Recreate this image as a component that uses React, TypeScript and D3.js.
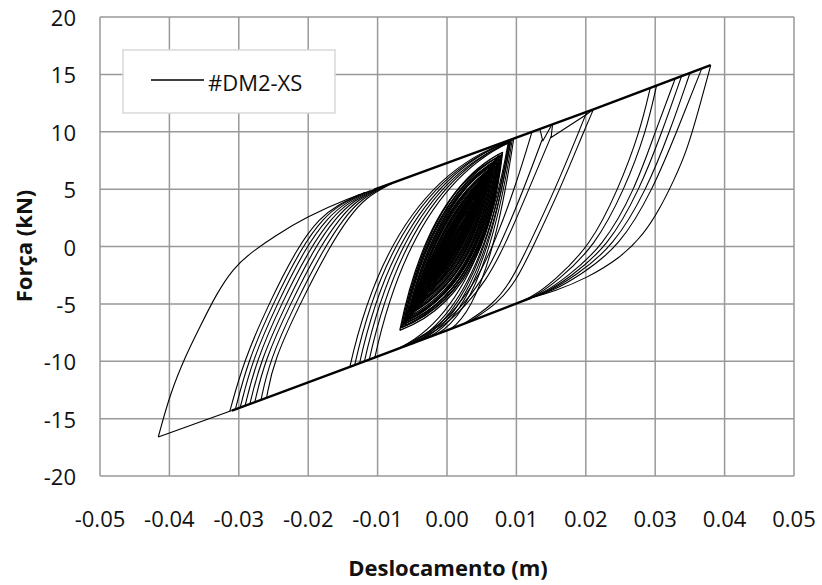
import React from "react";
import * as d3 from "d3";

type P = [number, number];

const xTicks = [-0.05, -0.04, -0.03, -0.02, -0.01, 0.0, 0.01, 0.02, 0.03, 0.04, 0.05];
const yTicks = [-20, -15, -10, -5, 0, 5, 10, 15, 20];
const seriesName = "#DM2-XS";

// envelopes (many overlapping branches, drawn thicker)
const upperEnvelope: P[] = [[-0.0105, 4.95], [0.009, 9.28], [0.0211, 11.95], [0.038, 15.8]];
const lowerEnvelope: P[] = [[-0.031, -14.3], [-0.014, -10.5], [0.0, -7.3], [0.012, -4.5]];
const lowerTail: P[] = [[-0.0416, -16.6], [-0.031, -14.3]];

// largest cycle
const outerDescent: P[] = [
  [0.038, 15.8], [0.03646, 12.33], [0.03454, 8.26], [0.0326, 5.65], [0.0307, 3.33],
  [0.0283, 1.0], [0.0249, -1.03], [0.0201, -2.77], [0.0155, -3.9], [0.012, -4.5],
];
const outerAscent: P[] = [
  [-0.0416, -16.6], [-0.0399, -12.8], [-0.0375, -9.3], [-0.0356, -7.0], [-0.0332, -4.1],
  [-0.0308, -1.9], [-0.0284, -0.6], [-0.025, 0.85], [-0.0202, 2.6], [-0.014, 4.25], [-0.0105, 4.95],
];

// right group of unloading branches (peaks 0.029 - 0.037 m)
const rightDescents: P[][] = [
  [[0.0367, 15.5], [0.0331, 10], [0.0297, 5], [0.0249, 0], [0.0192, -2.5], [0.015, -3.95], [0.012, -4.5]],
  [[0.035, 15.1], [0.0321, 10], [0.0288, 5], [0.024, 0], [0.0184, -2.6], [0.0145, -4.0], [0.0118, -4.55]],
  [[0.0338, 14.85], [0.031, 10], [0.0278, 5], [0.0232, 0], [0.0177, -2.7], [0.014, -4.1], [0.0115, -4.6]],
  [[0.0329, 14.65], [0.03, 10], [0.0271, 5], [0.0225, 0], [0.017, -2.8], [0.0136, -4.15], [0.0112, -4.7]],
  [[0.0302, 14.05], [0.0287, 10], [0.0256, 5], [0.0213, 0], [0.016, -2.95], [0.013, -4.25], [0.0108, -4.8]],
  [[0.0293, 13.85], [0.0278, 10], [0.0247, 5], [0.0206, 0], [0.0153, -3.05], [0.0125, -4.3], [0.0105, -4.85]],
];

// peaks near 0.02 m
const midRightDescents: P[][] = [
  [[0.0211, 11.95], [0.0197, 10], [0.0163, 5], [0.0124, 0], [0.01, -3.0], [0.0072, -5.0], [0.0035, -6.45]],
  [[0.0201, 11.66], [0.019, 10], [0.0156, 5], [0.0117, 0], [0.0092, -3.1], [0.0064, -5.2], [0.0025, -6.7]],
];

// peaks near 0.012 - 0.015 m
const smallDescents: P[][] = [
  [[0.0137, 9.3], [0.011, 4.9], [0.0076, 0], [0.0048, -3.2], [0.002, -5.3], [-0.001, -7.0], [-0.006, -8.7]],
  [[0.015, 9.6], [0.0118, 5.0], [0.0083, 0], [0.0055, -3.1], [0.0026, -5.2], [-0.0003, -6.9], [-0.005, -8.5]],
  [[0.0122, 9.9], [0.01, 5.5], [0.007, 0.5], [0.0042, -3.0], [0.0013, -5.4], [-0.0017, -7.2], [-0.007, -8.9]],
];
const notches: P[][] = [
  [[0.0134, 10.2], [0.0138, 9.2], [0.015, 10.5]],
  [[0.0152, 10.58], [0.015, 9.5], [0.0201, 11.5], [0.0211, 11.95]],
];

// left group of reloading branches (valleys -0.031 .. -0.026 m)
const leftAscents: P[][] = [
  [[-0.0313, -14.37], [-0.0293, -10], [-0.0257, -5], [-0.0215, 0], [-0.0183, 2.5], [-0.0158, 3.6], [-0.0125, 4.55]],
  [[-0.0305, -14.19], [-0.0287, -10], [-0.0251, -5], [-0.0209, 0], [-0.0178, 2.5], [-0.0153, 3.7], [-0.0118, 4.72]],
  [[-0.0298, -14.03], [-0.0281, -10], [-0.0245, -5], [-0.0203, 0], [-0.0172, 2.5], [-0.0147, 3.8], [-0.0111, 4.85]],
  [[-0.0291, -13.88], [-0.0275, -10], [-0.0239, -5], [-0.0196, 0], [-0.0166, 2.5], [-0.0141, 3.9], [-0.0104, 4.97]],
  [[-0.0284, -13.72], [-0.0269, -10], [-0.0232, -5], [-0.019, 0], [-0.016, 2.5], [-0.0135, 4.0], [-0.0097, 5.12]],
  [[-0.0277, -13.56], [-0.0263, -10], [-0.0226, -5], [-0.0183, 0], [-0.0154, 2.5], [-0.0129, 4.1], [-0.009, 5.28]],
  [[-0.0268, -13.36], [-0.0256, -10], [-0.0219, -5], [-0.0176, 0], [-0.0148, 2.5], [-0.0123, 4.2], [-0.0084, 5.41]],
  [[-0.026, -13.18], [-0.025, -10], [-0.0212, -5], [-0.0169, 0], [-0.0142, 2.5], [-0.0117, 4.3], [-0.0078, 5.54]],
];

// medium cycles: [start, control, end]
const midAscents: P[][] = [
  [[-0.014, -10.5], [-0.008, 5.8], [0.0092, 9.2]],
  [[-0.0133, -10.34], [-0.0075, 5.6], [0.009, 9.1]],
  [[-0.0126, -10.18], [-0.0069, 5.5], [0.0094, 9.3]],
  [[-0.0119, -10.02], [-0.0063, 5.3], [0.0088, 9.0]],
  [[-0.0112, -9.86], [-0.0057, 5.2], [0.0091, 9.15]],
  [[-0.0104, -9.68], [-0.0051, 5.0], [0.0089, 9.05]],
];
const midDescents: P[][] = [
  [[0.0092, 9.2], [0.005, -5.8], [-0.004, -8.22]],
  [[0.009, 9.1], [0.0046, -6.2], [-0.0065, -8.8]],
  [[0.0094, 9.3], [0.0056, -5.3], [-0.0015, -7.65]],
  [[0.0088, 9.0], [0.0043, -6.5], [-0.0085, -9.25]],
  [[0.0096, 9.35], [0.0061, -4.9], [0.0005, -7.2]],
  [[0.0091, 9.15], [0.0053, -5.6], [-0.0028, -7.95]],
  [[0.0089, 9.05], [0.0048, -6.0], [-0.0052, -8.5]],
];

// small cycles forming the dense core: [valleyX, valleyY, peakX, peakY, loop fullness]
const coreLoops: number[][] = [
  [-0.0068, -7.3, 0.0078, 7.9, 1.0],
  [-0.0066, -7.1, 0.008, 8.2, 0.96],
  [-0.0064, -7.0, 0.0076, 7.6, 0.93],
  [-0.0063, -6.8, 0.0079, 8.0, 0.9],
  [-0.0061, -6.7, 0.0074, 7.4, 0.87],
  [-0.006, -6.9, 0.0077, 7.8, 0.84],
  [-0.0058, -6.4, 0.0073, 7.3, 0.81],
  [-0.0057, -6.5, 0.0075, 7.6, 0.78],
  [-0.0055, -6.2, 0.0071, 7.0, 0.75],
  [-0.0054, -6.3, 0.0072, 7.2, 0.72],
  [-0.0052, -6.0, 0.0069, 6.8, 0.69],
  [-0.0051, -5.8, 0.007, 7.0, 0.66],
  [-0.0049, -5.6, 0.0067, 6.6, 0.63],
  [-0.0048, -5.7, 0.0066, 6.5, 0.6],
  [-0.0046, -5.4, 0.0065, 6.4, 0.57],
  [-0.0045, -5.2, 0.0063, 6.2, 0.54],
  [-0.0043, -5.0, 0.0062, 6.0, 0.51],
  [-0.0042, -5.1, 0.006, 5.8, 0.48],
  [-0.004, -4.8, 0.0059, 5.7, 0.45],
  [-0.0039, -4.6, 0.0058, 5.5, 0.42],
  [-0.0037, -4.4, 0.0056, 5.3, 0.39],
  [-0.0036, -4.5, 0.0055, 5.2, 0.36],
  [-0.0034, -4.2, 0.0053, 5.0, 0.33],
  [-0.0033, -4.0, 0.0052, 4.8, 0.3],
  [-0.0031, -3.8, 0.005, 4.6, 0.27],
  [-0.003, -3.6, 0.0049, 4.4, 0.24],
  [-0.0028, -3.4, 0.0047, 4.2, 0.21],
  [-0.0027, -3.3, 0.0046, 4.0, 0.18],
  [-0.0026, -3.2, 0.0045, 3.9, 0.15],
  [-0.0025, -3.1, 0.0044, 3.8, 0.12],
  [-0.0024, -3.0, 0.0043, 3.7, 0.09],
  [-0.0023, -2.9, 0.0042, 3.6, 0.06],
  [-0.0022, -2.8, 0.0041, 3.5, 0.03],
  [-0.0062, -6.6, 0.0068, 7.2, 0.4],
  [-0.006, -6.4, 0.0066, 7.0, 0.32],
  [-0.0058, -6.2, 0.0064, 6.8, 0.25],
  [-0.0056, -6.0, 0.0062, 6.6, 0.18],
  [-0.0054, -5.8, 0.006, 6.4, 0.12],
  [-0.005, -5.5, 0.0057, 6.1, 0.07],
  [-0.0064, -6.9, 0.0072, 7.6, 0.28],
  [-0.0057, -6.1, 0.0074, 7.9, 0.2],
];

const W = 822;
const H = 585;
const FONT = "'Open Sans', 'Liberation Sans', sans-serif";
// shape of a full core loop: control offsets of the loading / unloading branches
const LOAD_BULGE: P = [-0.0031, 4.8];
const UNLOAD_BULGE: P = [0.0053, -4.8];

export default function App() {
  const x = d3.scaleLinear().domain([-0.05, 0.05]).range([100, 794]);
  const y = d3.scaleLinear().domain([-20, 20]).range([476, 17]);

  const smooth = d3
    .line<P>()
    .x((d) => x(d[0]))
    .y((d) => y(d[1]))
    .curve(d3.curveBasis);
  const straight = d3
    .line<P>()
    .x((d) => x(d[0]))
    .y((d) => y(d[1]));

  const quad = (b: P[]) => {
    const p = d3.path();
    p.moveTo(x(b[0][0]), y(b[0][1]));
    p.quadraticCurveTo(x(b[1][0]), y(b[1][1]), x(b[2][0]), y(b[2][1]));
    return p.toString();
  };

  const lens = (l: number[]) => {
    const [vx, vy, px, py, f] = l;
    const mx = (vx + px) / 2;
    const my = (vy + py) / 2;
    const p = d3.path();
    p.moveTo(x(vx), y(vy));
    p.quadraticCurveTo(x(mx + f * LOAD_BULGE[0]), y(my + f * LOAD_BULGE[1]), x(px), y(py));
    p.quadraticCurveTo(x(mx + f * UNLOAD_BULGE[0]), y(my + f * UNLOAD_BULGE[1]), x(vx), y(vy));
    return p.toString();
  };

  const grid = "#999999";
  const lineProps = { fill: "none", stroke: "#000", strokeWidth: 1.1, strokeLinejoin: "round" as const };

  return (
    <svg
      width={W}
      height={H}
      style={{ position: "absolute", left: 0, top: 0, background: "#fff" }}
      fontFamily={FONT}
    >
      <rect x={0} y={0} width={W} height={H} fill="#fff" />
      {xTicks.map((t) => (
        <line key={"gx" + t} x1={x(t)} x2={x(t)} y1={y(20)} y2={y(-20)} stroke={grid} strokeWidth={1.5} />
      ))}
      {yTicks.map((t) => (
        <line key={"gy" + t} x1={x(-0.05)} x2={x(0.05)} y1={y(t)} y2={y(t)} stroke={grid} strokeWidth={1.5} />
      ))}

      {yTicks.map((t) => (
        <text key={"ty" + t} x={76} y={y(t) + 9} textAnchor="end" fontSize={22} fill="#111">
          {t}
        </text>
      ))}
      {xTicks.map((t) => (
        <text key={"tx" + t} x={x(t)} y={527} textAnchor="middle" fontSize={22} fill="#111">
          {t.toFixed(2)}
        </text>
      ))}

      <text x={448} y={576} textAnchor="middle" fontSize={22} fontWeight="bold" fill="#111">
        Deslocamento (m)
      </text>
      <text
        transform={`translate(31.5,246) rotate(-90)`}
        textAnchor="middle"
        fontSize={22}
        fontWeight="bold"
        fill="#111"
      >
        Força (kN)
      </text>

      <g>
        {coreLoops.map((l, i) => (
          <path key={"c" + i} d={lens(l)} {...lineProps} strokeWidth={1.3} />
        ))}
        {midAscents.map((b, i) => (
          <path key={"ma" + i} d={quad(b)} {...lineProps} />
        ))}
        {midDescents.map((b, i) => (
          <path key={"md" + i} d={quad(b)} {...lineProps} />
        ))}
        {smallDescents.map((b, i) => (
          <path key={"sd" + i} d={smooth(b) || ""} {...lineProps} />
        ))}
        {notches.map((b, i) => (
          <path key={"n" + i} d={straight(b) || ""} {...lineProps} />
        ))}
        {midRightDescents.map((b, i) => (
          <path key={"mr" + i} d={smooth(b) || ""} {...lineProps} />
        ))}
        {rightDescents.map((b, i) => (
          <path key={"rd" + i} d={smooth(b) || ""} {...lineProps} />
        ))}
        {leftAscents.map((b, i) => (
          <path key={"la" + i} d={smooth(b) || ""} {...lineProps} />
        ))}
        <path d={smooth(outerDescent) || ""} {...lineProps} />
        <path d={smooth(outerAscent) || ""} {...lineProps} />
        <path d={straight(lowerTail) || ""} {...lineProps} />
        <path d={straight(upperEnvelope) || ""} fill="none" stroke="#000" strokeWidth={2.4} />
        <path d={straight(lowerEnvelope) || ""} fill="none" stroke="#000" strokeWidth={2.4} />
      </g>

      <rect x={123} y={50} width={212} height={63} fill="#fff" stroke="#d9d9d9" strokeWidth={1.5} />
      <line x1={151} x2={204} y1={80} y2={80} stroke="#000" strokeWidth={1.5} />
      <text x={208} y={90.5} fontSize={22} fill="#111">
        {seriesName}
      </text>
    </svg>
  );
}
